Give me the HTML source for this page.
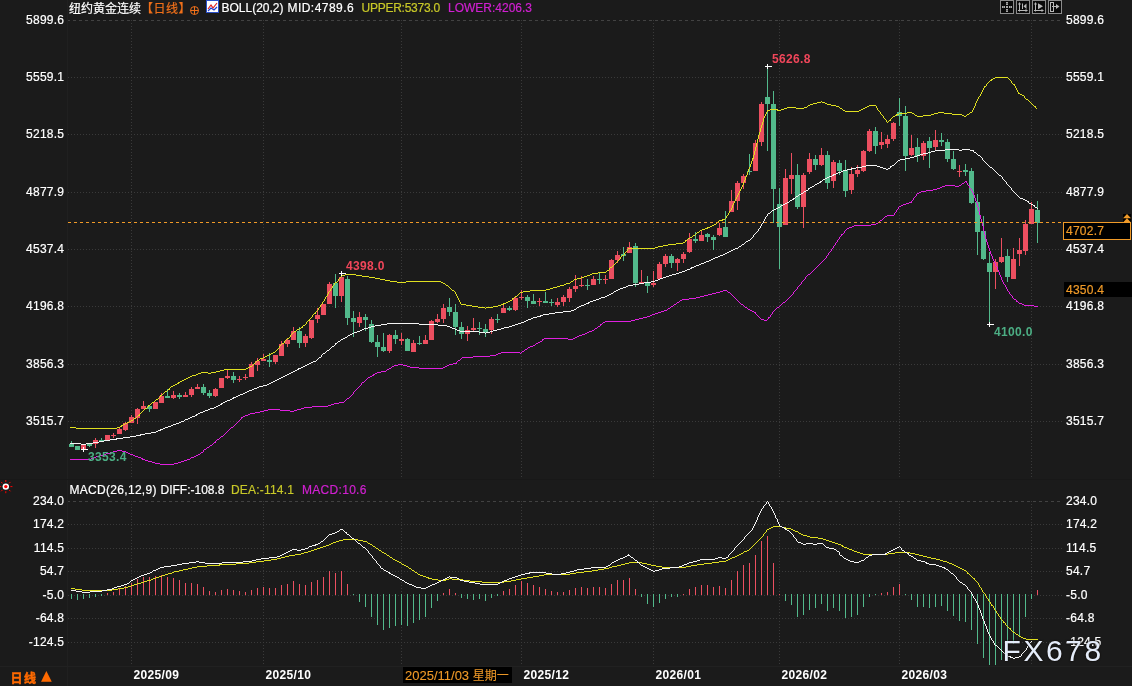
<!DOCTYPE html><html><head><meta charset="utf-8"><title>纽约黄金连续 日线</title>
<style>
html,body{margin:0;padding:0;background:#1b1b1b;}
body{width:1132px;height:686px;overflow:hidden;position:relative;font-family:"Liberation Sans","Noto Sans CJK SC",sans-serif;font-size:12px;color:#fff;}
#c{position:absolute;left:0;top:0;}
.t{position:absolute;white-space:nowrap;line-height:14px;height:14px;-webkit-text-stroke:0.2px;}
.ax{letter-spacing:0.25px;}
.r{text-align:right;}
.b{font-weight:bold;-webkit-text-stroke:0;letter-spacing:0.35px;}
.cjk{font-family:"Noto Sans CJK SC","Liberation Sans",sans-serif;}
</style></head><body>
<svg id="c" width="1132" height="686" viewBox="0 0 1132 686">
<rect x="0" y="0" width="1132" height="686" fill="#1b1b1b"/>
<g shape-rendering="crispEdges">
<rect x="67" y="0" width="1" height="686" fill="#202020"/>
<rect x="0" y="479" width="1132" height="1" fill="#181818"/>
<rect x="0" y="666" width="1132" height="1" fill="#212121"/>
<line x1="68" y1="20.5" x2="1062" y2="20.5" stroke="#424242" stroke-width="1" stroke-dasharray="3 3" stroke-dashoffset="-5"/>
<line x1="68" y1="77.5" x2="1062" y2="77.5" stroke="#3a3a3a" stroke-width="1" stroke-dasharray="1 2"/>
<line x1="68" y1="134.5" x2="1062" y2="134.5" stroke="#3a3a3a" stroke-width="1" stroke-dasharray="1 2"/>
<line x1="68" y1="192.5" x2="1062" y2="192.5" stroke="#3a3a3a" stroke-width="1" stroke-dasharray="1 2"/>
<line x1="68" y1="249.5" x2="1062" y2="249.5" stroke="#3a3a3a" stroke-width="1" stroke-dasharray="1 2"/>
<line x1="68" y1="306.5" x2="1062" y2="306.5" stroke="#3a3a3a" stroke-width="1" stroke-dasharray="1 2"/>
<line x1="68" y1="364.5" x2="1062" y2="364.5" stroke="#3a3a3a" stroke-width="1" stroke-dasharray="1 2"/>
<line x1="68" y1="421.5" x2="1062" y2="421.5" stroke="#3a3a3a" stroke-width="1" stroke-dasharray="1 2"/>
<line x1="68" y1="501.5" x2="1062" y2="501.5" stroke="#424242" stroke-width="1" stroke-dasharray="3 3" stroke-dashoffset="-5"/>
<line x1="68" y1="524.5" x2="1062" y2="524.5" stroke="#3a3a3a" stroke-width="1" stroke-dasharray="1 2"/>
<line x1="68" y1="548.5" x2="1062" y2="548.5" stroke="#3a3a3a" stroke-width="1" stroke-dasharray="1 2"/>
<line x1="68" y1="571.5" x2="1062" y2="571.5" stroke="#3a3a3a" stroke-width="1" stroke-dasharray="1 2"/>
<line x1="68" y1="595.5" x2="1062" y2="595.5" stroke="#3a3a3a" stroke-width="1" stroke-dasharray="1 2"/>
<line x1="68" y1="618.5" x2="1062" y2="618.5" stroke="#3a3a3a" stroke-width="1" stroke-dasharray="1 2"/>
<line x1="68" y1="642.5" x2="1062" y2="642.5" stroke="#3a3a3a" stroke-width="1" stroke-dasharray="1 2"/>
<line x1="131.5" y1="20" x2="131.5" y2="479" stroke="#3a3a3a" stroke-width="1" stroke-dasharray="1 2"/>
<line x1="131.5" y1="501" x2="131.5" y2="666" stroke="#3a3a3a" stroke-width="1" stroke-dasharray="1 2"/>
<line x1="263.5" y1="20" x2="263.5" y2="479" stroke="#3a3a3a" stroke-width="1" stroke-dasharray="1 2"/>
<line x1="263.5" y1="501" x2="263.5" y2="666" stroke="#3a3a3a" stroke-width="1" stroke-dasharray="1 2"/>
<line x1="401.5" y1="20" x2="401.5" y2="479" stroke="#3a3a3a" stroke-width="1" stroke-dasharray="1 2"/>
<line x1="401.5" y1="501" x2="401.5" y2="666" stroke="#3a3a3a" stroke-width="1" stroke-dasharray="1 2"/>
<line x1="521.5" y1="20" x2="521.5" y2="479" stroke="#3a3a3a" stroke-width="1" stroke-dasharray="1 2"/>
<line x1="521.5" y1="501" x2="521.5" y2="666" stroke="#3a3a3a" stroke-width="1" stroke-dasharray="1 2"/>
<line x1="653.5" y1="20" x2="653.5" y2="479" stroke="#3a3a3a" stroke-width="1" stroke-dasharray="1 2"/>
<line x1="653.5" y1="501" x2="653.5" y2="666" stroke="#3a3a3a" stroke-width="1" stroke-dasharray="1 2"/>
<line x1="779.5" y1="20" x2="779.5" y2="479" stroke="#3a3a3a" stroke-width="1" stroke-dasharray="1 2"/>
<line x1="779.5" y1="501" x2="779.5" y2="666" stroke="#3a3a3a" stroke-width="1" stroke-dasharray="1 2"/>
<line x1="899.5" y1="20" x2="899.5" y2="479" stroke="#3a3a3a" stroke-width="1" stroke-dasharray="1 2"/>
<line x1="899.5" y1="501" x2="899.5" y2="666" stroke="#3a3a3a" stroke-width="1" stroke-dasharray="1 2"/>
<line x1="1031.5" y1="20" x2="1031.5" y2="479" stroke="#3a3a3a" stroke-width="1" stroke-dasharray="1 2"/>
<line x1="1031.5" y1="501" x2="1031.5" y2="666" stroke="#3a3a3a" stroke-width="1" stroke-dasharray="1 2"/>
</g>
<g shape-rendering="crispEdges">
<rect x="71" y="441" width="1" height="6" fill="#52b98b"/>
<rect x="69" y="444" width="5" height="3" fill="#52b98b"/>
<rect x="77" y="446" width="1" height="4" fill="#52b98b"/>
<rect x="75" y="446" width="5" height="4" fill="#52b98b"/>
<rect x="83" y="445" width="1" height="6" fill="#ec4f60"/>
<rect x="81" y="445" width="5" height="4" fill="#ec4f60"/>
<rect x="89" y="444" width="1" height="3" fill="#52b98b"/>
<rect x="87" y="444" width="5" height="2" fill="#52b98b"/>
<rect x="95" y="438" width="1" height="10" fill="#ec4f60"/>
<rect x="93" y="440" width="5" height="4" fill="#ec4f60"/>
<rect x="101" y="438" width="1" height="3" fill="#52b98b"/>
<rect x="99" y="440" width="5" height="1" fill="#52b98b"/>
<rect x="107" y="435" width="1" height="6" fill="#ec4f60"/>
<rect x="105" y="435" width="5" height="6" fill="#ec4f60"/>
<rect x="113" y="433" width="1" height="5" fill="#ec4f60"/>
<rect x="111" y="435" width="5" height="1" fill="#ec4f60"/>
<rect x="119" y="428" width="1" height="6" fill="#ec4f60"/>
<rect x="117" y="429" width="5" height="5" fill="#ec4f60"/>
<rect x="125" y="422" width="1" height="9" fill="#ec4f60"/>
<rect x="123" y="423" width="5" height="7" fill="#ec4f60"/>
<rect x="131" y="415" width="1" height="8" fill="#ec4f60"/>
<rect x="129" y="417" width="5" height="6" fill="#ec4f60"/>
<rect x="137" y="408" width="1" height="16" fill="#ec4f60"/>
<rect x="135" y="409" width="5" height="9" fill="#ec4f60"/>
<rect x="143" y="401" width="1" height="8" fill="#ec4f60"/>
<rect x="141" y="406" width="5" height="3" fill="#ec4f60"/>
<rect x="149" y="405" width="1" height="7" fill="#52b98b"/>
<rect x="147" y="406" width="5" height="3" fill="#52b98b"/>
<rect x="155" y="402" width="1" height="7" fill="#ec4f60"/>
<rect x="153" y="402" width="5" height="7" fill="#ec4f60"/>
<rect x="161" y="393" width="1" height="10" fill="#ec4f60"/>
<rect x="159" y="396" width="5" height="7" fill="#ec4f60"/>
<rect x="167" y="389" width="1" height="9" fill="#52b98b"/>
<rect x="165" y="396" width="5" height="2" fill="#52b98b"/>
<rect x="173" y="391" width="1" height="8" fill="#ec4f60"/>
<rect x="171" y="395" width="5" height="3" fill="#ec4f60"/>
<rect x="179" y="393" width="1" height="6" fill="#52b98b"/>
<rect x="177" y="395" width="5" height="2" fill="#52b98b"/>
<rect x="185" y="392" width="1" height="5" fill="#ec4f60"/>
<rect x="183" y="395" width="5" height="2" fill="#ec4f60"/>
<rect x="191" y="387" width="1" height="10" fill="#ec4f60"/>
<rect x="189" y="389" width="5" height="6" fill="#ec4f60"/>
<rect x="197" y="384" width="1" height="5" fill="#ec4f60"/>
<rect x="195" y="387" width="5" height="2" fill="#ec4f60"/>
<rect x="203" y="384" width="1" height="11" fill="#52b98b"/>
<rect x="201" y="387" width="5" height="6" fill="#52b98b"/>
<rect x="209" y="390" width="1" height="8" fill="#52b98b"/>
<rect x="207" y="393" width="5" height="3" fill="#52b98b"/>
<rect x="215" y="388" width="1" height="9" fill="#ec4f60"/>
<rect x="213" y="389" width="5" height="7" fill="#ec4f60"/>
<rect x="221" y="378" width="1" height="10" fill="#ec4f60"/>
<rect x="219" y="378" width="5" height="10" fill="#ec4f60"/>
<rect x="227" y="370" width="1" height="9" fill="#ec4f60"/>
<rect x="225" y="376" width="5" height="2" fill="#ec4f60"/>
<rect x="233" y="372" width="1" height="11" fill="#52b98b"/>
<rect x="231" y="376" width="5" height="4" fill="#52b98b"/>
<rect x="239" y="376" width="1" height="6" fill="#ec4f60"/>
<rect x="237" y="379" width="5" height="1" fill="#ec4f60"/>
<rect x="245" y="374" width="1" height="6" fill="#ec4f60"/>
<rect x="243" y="377" width="5" height="1" fill="#ec4f60"/>
<rect x="251" y="362" width="1" height="15" fill="#ec4f60"/>
<rect x="249" y="364" width="5" height="13" fill="#ec4f60"/>
<rect x="257" y="358" width="1" height="13" fill="#ec4f60"/>
<rect x="255" y="361" width="5" height="4" fill="#ec4f60"/>
<rect x="263" y="354" width="1" height="7" fill="#ec4f60"/>
<rect x="261" y="359" width="5" height="2" fill="#ec4f60"/>
<rect x="269" y="353" width="1" height="14" fill="#52b98b"/>
<rect x="267" y="360" width="5" height="2" fill="#52b98b"/>
<rect x="275" y="355" width="1" height="9" fill="#ec4f60"/>
<rect x="273" y="355" width="5" height="7" fill="#ec4f60"/>
<rect x="281" y="341" width="1" height="15" fill="#ec4f60"/>
<rect x="279" y="344" width="5" height="12" fill="#ec4f60"/>
<rect x="287" y="338" width="1" height="9" fill="#ec4f60"/>
<rect x="285" y="340" width="5" height="4" fill="#ec4f60"/>
<rect x="293" y="327" width="1" height="13" fill="#ec4f60"/>
<rect x="291" y="331" width="5" height="9" fill="#ec4f60"/>
<rect x="299" y="327" width="1" height="21" fill="#52b98b"/>
<rect x="297" y="331" width="5" height="12" fill="#52b98b"/>
<rect x="305" y="334" width="1" height="13" fill="#ec4f60"/>
<rect x="303" y="336" width="5" height="7" fill="#ec4f60"/>
<rect x="311" y="320" width="1" height="19" fill="#ec4f60"/>
<rect x="309" y="320" width="5" height="18" fill="#ec4f60"/>
<rect x="317" y="308" width="1" height="15" fill="#ec4f60"/>
<rect x="315" y="315" width="5" height="4" fill="#ec4f60"/>
<rect x="323" y="304" width="1" height="11" fill="#ec4f60"/>
<rect x="321" y="304" width="5" height="11" fill="#ec4f60"/>
<rect x="329" y="282" width="1" height="22" fill="#ec4f60"/>
<rect x="327" y="284" width="5" height="20" fill="#ec4f60"/>
<rect x="335" y="274" width="1" height="34" fill="#52b98b"/>
<rect x="333" y="283" width="5" height="13" fill="#52b98b"/>
<rect x="341" y="273" width="1" height="29" fill="#ec4f60"/>
<rect x="339" y="277" width="5" height="19" fill="#ec4f60"/>
<rect x="347" y="276" width="1" height="49" fill="#52b98b"/>
<rect x="345" y="279" width="5" height="39" fill="#52b98b"/>
<rect x="353" y="311" width="1" height="26" fill="#52b98b"/>
<rect x="351" y="318" width="5" height="4" fill="#52b98b"/>
<rect x="359" y="312" width="1" height="15" fill="#ec4f60"/>
<rect x="357" y="317" width="5" height="6" fill="#ec4f60"/>
<rect x="365" y="314" width="1" height="17" fill="#52b98b"/>
<rect x="363" y="317" width="5" height="3" fill="#52b98b"/>
<rect x="371" y="320" width="1" height="23" fill="#52b98b"/>
<rect x="369" y="324" width="5" height="18" fill="#52b98b"/>
<rect x="377" y="335" width="1" height="22" fill="#52b98b"/>
<rect x="375" y="342" width="5" height="5" fill="#52b98b"/>
<rect x="383" y="333" width="1" height="19" fill="#52b98b"/>
<rect x="381" y="347" width="5" height="4" fill="#52b98b"/>
<rect x="389" y="334" width="1" height="19" fill="#ec4f60"/>
<rect x="387" y="335" width="5" height="16" fill="#ec4f60"/>
<rect x="395" y="330" width="1" height="14" fill="#52b98b"/>
<rect x="393" y="335" width="5" height="4" fill="#52b98b"/>
<rect x="401" y="333" width="1" height="12" fill="#ec4f60"/>
<rect x="399" y="339" width="5" height="2" fill="#ec4f60"/>
<rect x="407" y="338" width="1" height="13" fill="#52b98b"/>
<rect x="405" y="339" width="5" height="12" fill="#52b98b"/>
<rect x="413" y="340" width="1" height="12" fill="#ec4f60"/>
<rect x="411" y="343" width="5" height="9" fill="#ec4f60"/>
<rect x="419" y="336" width="1" height="9" fill="#52b98b"/>
<rect x="417" y="343" width="5" height="1" fill="#52b98b"/>
<rect x="425" y="335" width="1" height="9" fill="#ec4f60"/>
<rect x="423" y="340" width="5" height="4" fill="#ec4f60"/>
<rect x="431" y="320" width="1" height="20" fill="#ec4f60"/>
<rect x="429" y="321" width="5" height="19" fill="#ec4f60"/>
<rect x="437" y="314" width="1" height="9" fill="#ec4f60"/>
<rect x="435" y="319" width="5" height="3" fill="#ec4f60"/>
<rect x="443" y="304" width="1" height="19" fill="#ec4f60"/>
<rect x="441" y="308" width="5" height="11" fill="#ec4f60"/>
<rect x="449" y="298" width="1" height="18" fill="#52b98b"/>
<rect x="447" y="307" width="5" height="5" fill="#52b98b"/>
<rect x="455" y="304" width="1" height="31" fill="#52b98b"/>
<rect x="453" y="312" width="5" height="15" fill="#52b98b"/>
<rect x="461" y="322" width="1" height="17" fill="#52b98b"/>
<rect x="459" y="327" width="5" height="7" fill="#52b98b"/>
<rect x="467" y="326" width="1" height="15" fill="#ec4f60"/>
<rect x="465" y="330" width="5" height="4" fill="#ec4f60"/>
<rect x="473" y="318" width="1" height="13" fill="#ec4f60"/>
<rect x="471" y="328" width="5" height="2" fill="#ec4f60"/>
<rect x="479" y="322" width="1" height="13" fill="#52b98b"/>
<rect x="477" y="328" width="5" height="1" fill="#52b98b"/>
<rect x="485" y="324" width="1" height="13" fill="#52b98b"/>
<rect x="483" y="329" width="5" height="3" fill="#52b98b"/>
<rect x="491" y="317" width="1" height="17" fill="#ec4f60"/>
<rect x="489" y="319" width="5" height="11" fill="#ec4f60"/>
<rect x="497" y="314" width="1" height="9" fill="#52b98b"/>
<rect x="495" y="319" width="5" height="1" fill="#52b98b"/>
<rect x="503" y="305" width="1" height="8" fill="#ec4f60"/>
<rect x="501" y="308" width="5" height="5" fill="#ec4f60"/>
<rect x="509" y="306" width="1" height="5" fill="#52b98b"/>
<rect x="507" y="308" width="5" height="2" fill="#52b98b"/>
<rect x="515" y="297" width="1" height="14" fill="#ec4f60"/>
<rect x="513" y="298" width="5" height="12" fill="#ec4f60"/>
<rect x="521" y="290" width="1" height="10" fill="#ec4f60"/>
<rect x="519" y="297" width="5" height="1" fill="#ec4f60"/>
<rect x="527" y="295" width="1" height="13" fill="#52b98b"/>
<rect x="525" y="297" width="5" height="4" fill="#52b98b"/>
<rect x="533" y="294" width="1" height="10" fill="#52b98b"/>
<rect x="531" y="301" width="5" height="3" fill="#52b98b"/>
<rect x="539" y="298" width="1" height="8" fill="#ec4f60"/>
<rect x="537" y="301" width="5" height="1" fill="#ec4f60"/>
<rect x="545" y="292" width="1" height="11" fill="#52b98b"/>
<rect x="543" y="301" width="5" height="2" fill="#52b98b"/>
<rect x="551" y="299" width="1" height="7" fill="#52b98b"/>
<rect x="549" y="302" width="5" height="1" fill="#52b98b"/>
<rect x="557" y="298" width="1" height="9" fill="#ec4f60"/>
<rect x="555" y="302" width="5" height="3" fill="#ec4f60"/>
<rect x="563" y="295" width="1" height="11" fill="#ec4f60"/>
<rect x="561" y="297" width="5" height="5" fill="#ec4f60"/>
<rect x="569" y="287" width="1" height="15" fill="#ec4f60"/>
<rect x="567" y="289" width="5" height="9" fill="#ec4f60"/>
<rect x="575" y="275" width="1" height="17" fill="#ec4f60"/>
<rect x="573" y="286" width="5" height="3" fill="#ec4f60"/>
<rect x="581" y="276" width="1" height="11" fill="#ec4f60"/>
<rect x="579" y="285" width="5" height="1" fill="#ec4f60"/>
<rect x="587" y="279" width="1" height="11" fill="#52b98b"/>
<rect x="585" y="285" width="5" height="1" fill="#52b98b"/>
<rect x="593" y="276" width="1" height="9" fill="#ec4f60"/>
<rect x="591" y="279" width="5" height="6" fill="#ec4f60"/>
<rect x="599" y="272" width="1" height="12" fill="#52b98b"/>
<rect x="597" y="279" width="5" height="1" fill="#52b98b"/>
<rect x="605" y="275" width="1" height="9" fill="#ec4f60"/>
<rect x="603" y="279" width="5" height="1" fill="#ec4f60"/>
<rect x="611" y="259" width="1" height="20" fill="#ec4f60"/>
<rect x="609" y="260" width="5" height="19" fill="#ec4f60"/>
<rect x="617" y="251" width="1" height="12" fill="#ec4f60"/>
<rect x="615" y="255" width="5" height="5" fill="#ec4f60"/>
<rect x="623" y="247" width="1" height="14" fill="#52b98b"/>
<rect x="621" y="254" width="5" height="2" fill="#52b98b"/>
<rect x="629" y="242" width="1" height="11" fill="#ec4f60"/>
<rect x="627" y="247" width="5" height="6" fill="#ec4f60"/>
<rect x="635" y="243" width="1" height="44" fill="#52b98b"/>
<rect x="633" y="246" width="5" height="37" fill="#52b98b"/>
<rect x="641" y="270" width="1" height="13" fill="#ec4f60"/>
<rect x="639" y="282" width="5" height="1" fill="#ec4f60"/>
<rect x="647" y="276" width="1" height="17" fill="#52b98b"/>
<rect x="645" y="282" width="5" height="4" fill="#52b98b"/>
<rect x="653" y="271" width="1" height="16" fill="#ec4f60"/>
<rect x="651" y="283" width="5" height="2" fill="#ec4f60"/>
<rect x="659" y="262" width="1" height="18" fill="#ec4f60"/>
<rect x="657" y="264" width="5" height="15" fill="#ec4f60"/>
<rect x="665" y="254" width="1" height="13" fill="#ec4f60"/>
<rect x="663" y="256" width="5" height="8" fill="#ec4f60"/>
<rect x="671" y="254" width="1" height="14" fill="#52b98b"/>
<rect x="669" y="256" width="5" height="7" fill="#52b98b"/>
<rect x="677" y="258" width="1" height="13" fill="#ec4f60"/>
<rect x="675" y="259" width="5" height="4" fill="#ec4f60"/>
<rect x="683" y="252" width="1" height="11" fill="#ec4f60"/>
<rect x="681" y="254" width="5" height="5" fill="#ec4f60"/>
<rect x="689" y="233" width="1" height="20" fill="#ec4f60"/>
<rect x="687" y="239" width="5" height="13" fill="#ec4f60"/>
<rect x="695" y="232" width="1" height="11" fill="#52b98b"/>
<rect x="693" y="239" width="5" height="2" fill="#52b98b"/>
<rect x="701" y="230" width="1" height="11" fill="#ec4f60"/>
<rect x="699" y="235" width="5" height="6" fill="#ec4f60"/>
<rect x="707" y="233" width="1" height="9" fill="#52b98b"/>
<rect x="705" y="234" width="5" height="3" fill="#52b98b"/>
<rect x="713" y="235" width="1" height="15" fill="#52b98b"/>
<rect x="711" y="237" width="5" height="3" fill="#52b98b"/>
<rect x="719" y="223" width="1" height="13" fill="#ec4f60"/>
<rect x="717" y="228" width="5" height="7" fill="#ec4f60"/>
<rect x="725" y="211" width="1" height="26" fill="#52b98b"/>
<rect x="723" y="227" width="5" height="10" fill="#52b98b"/>
<rect x="731" y="190" width="1" height="22" fill="#ec4f60"/>
<rect x="729" y="201" width="5" height="11" fill="#ec4f60"/>
<rect x="737" y="181" width="1" height="29" fill="#ec4f60"/>
<rect x="735" y="183" width="5" height="18" fill="#ec4f60"/>
<rect x="743" y="174" width="1" height="15" fill="#ec4f60"/>
<rect x="741" y="176" width="5" height="7" fill="#ec4f60"/>
<rect x="749" y="154" width="1" height="21" fill="#52b98b"/>
<rect x="747" y="171" width="5" height="1" fill="#52b98b"/>
<rect x="755" y="140" width="1" height="31" fill="#ec4f60"/>
<rect x="753" y="143" width="5" height="28" fill="#ec4f60"/>
<rect x="761" y="102" width="1" height="44" fill="#ec4f60"/>
<rect x="759" y="104" width="5" height="38" fill="#ec4f60"/>
<rect x="767" y="66" width="1" height="85" fill="#52b98b"/>
<rect x="765" y="97" width="5" height="7" fill="#52b98b"/>
<rect x="773" y="91" width="1" height="132" fill="#52b98b"/>
<rect x="771" y="104" width="5" height="85" fill="#52b98b"/>
<rect x="779" y="188" width="1" height="81" fill="#52b98b"/>
<rect x="777" y="204" width="5" height="23" fill="#52b98b"/>
<rect x="785" y="169" width="1" height="56" fill="#ec4f60"/>
<rect x="783" y="178" width="5" height="47" fill="#ec4f60"/>
<rect x="791" y="153" width="1" height="41" fill="#ec4f60"/>
<rect x="789" y="175" width="5" height="4" fill="#ec4f60"/>
<rect x="797" y="164" width="1" height="45" fill="#52b98b"/>
<rect x="795" y="175" width="5" height="32" fill="#52b98b"/>
<rect x="803" y="173" width="1" height="55" fill="#ec4f60"/>
<rect x="801" y="175" width="5" height="32" fill="#ec4f60"/>
<rect x="809" y="153" width="1" height="21" fill="#ec4f60"/>
<rect x="807" y="159" width="5" height="13" fill="#ec4f60"/>
<rect x="815" y="155" width="1" height="15" fill="#52b98b"/>
<rect x="813" y="159" width="5" height="6" fill="#52b98b"/>
<rect x="821" y="148" width="1" height="18" fill="#ec4f60"/>
<rect x="819" y="155" width="5" height="10" fill="#ec4f60"/>
<rect x="827" y="151" width="1" height="38" fill="#52b98b"/>
<rect x="825" y="155" width="5" height="28" fill="#52b98b"/>
<rect x="833" y="160" width="1" height="28" fill="#ec4f60"/>
<rect x="831" y="162" width="5" height="19" fill="#ec4f60"/>
<rect x="839" y="160" width="1" height="15" fill="#52b98b"/>
<rect x="837" y="163" width="5" height="8" fill="#52b98b"/>
<rect x="845" y="160" width="1" height="37" fill="#52b98b"/>
<rect x="843" y="170" width="5" height="21" fill="#52b98b"/>
<rect x="851" y="167" width="1" height="27" fill="#ec4f60"/>
<rect x="849" y="174" width="5" height="16" fill="#ec4f60"/>
<rect x="857" y="165" width="1" height="12" fill="#ec4f60"/>
<rect x="855" y="170" width="5" height="4" fill="#ec4f60"/>
<rect x="863" y="150" width="1" height="22" fill="#ec4f60"/>
<rect x="861" y="151" width="5" height="20" fill="#ec4f60"/>
<rect x="869" y="129" width="1" height="23" fill="#ec4f60"/>
<rect x="867" y="131" width="5" height="20" fill="#ec4f60"/>
<rect x="875" y="127" width="1" height="27" fill="#52b98b"/>
<rect x="873" y="131" width="5" height="15" fill="#52b98b"/>
<rect x="881" y="132" width="1" height="17" fill="#ec4f60"/>
<rect x="879" y="142" width="5" height="3" fill="#ec4f60"/>
<rect x="887" y="135" width="1" height="13" fill="#ec4f60"/>
<rect x="885" y="139" width="5" height="5" fill="#ec4f60"/>
<rect x="893" y="122" width="1" height="19" fill="#ec4f60"/>
<rect x="891" y="123" width="5" height="16" fill="#ec4f60"/>
<rect x="899" y="98" width="1" height="28" fill="#52b98b"/>
<rect x="897" y="112" width="5" height="4" fill="#52b98b"/>
<rect x="905" y="106" width="1" height="65" fill="#52b98b"/>
<rect x="903" y="116" width="5" height="40" fill="#52b98b"/>
<rect x="911" y="135" width="1" height="21" fill="#ec4f60"/>
<rect x="909" y="148" width="5" height="7" fill="#ec4f60"/>
<rect x="917" y="138" width="1" height="24" fill="#52b98b"/>
<rect x="915" y="147" width="5" height="9" fill="#52b98b"/>
<rect x="923" y="141" width="1" height="19" fill="#ec4f60"/>
<rect x="921" y="143" width="5" height="13" fill="#ec4f60"/>
<rect x="929" y="137" width="1" height="31" fill="#52b98b"/>
<rect x="927" y="141" width="5" height="7" fill="#52b98b"/>
<rect x="935" y="130" width="1" height="21" fill="#ec4f60"/>
<rect x="933" y="140" width="5" height="7" fill="#ec4f60"/>
<rect x="941" y="133" width="1" height="13" fill="#52b98b"/>
<rect x="939" y="140" width="5" height="2" fill="#52b98b"/>
<rect x="947" y="139" width="1" height="23" fill="#52b98b"/>
<rect x="945" y="142" width="5" height="17" fill="#52b98b"/>
<rect x="953" y="151" width="1" height="19" fill="#52b98b"/>
<rect x="951" y="159" width="5" height="10" fill="#52b98b"/>
<rect x="959" y="165" width="1" height="12" fill="#ec4f60"/>
<rect x="957" y="171" width="5" height="1" fill="#ec4f60"/>
<rect x="965" y="164" width="1" height="12" fill="#52b98b"/>
<rect x="963" y="170" width="5" height="2" fill="#52b98b"/>
<rect x="971" y="168" width="1" height="36" fill="#52b98b"/>
<rect x="969" y="171" width="5" height="32" fill="#52b98b"/>
<rect x="977" y="194" width="1" height="61" fill="#52b98b"/>
<rect x="975" y="202" width="5" height="30" fill="#52b98b"/>
<rect x="983" y="216" width="1" height="44" fill="#52b98b"/>
<rect x="981" y="231" width="5" height="28" fill="#52b98b"/>
<rect x="989" y="252" width="1" height="72" fill="#52b98b"/>
<rect x="987" y="263" width="5" height="9" fill="#52b98b"/>
<rect x="995" y="259" width="1" height="30" fill="#ec4f60"/>
<rect x="993" y="262" width="5" height="10" fill="#ec4f60"/>
<rect x="1001" y="238" width="1" height="25" fill="#ec4f60"/>
<rect x="999" y="257" width="5" height="5" fill="#ec4f60"/>
<rect x="1007" y="249" width="1" height="33" fill="#52b98b"/>
<rect x="1005" y="256" width="5" height="21" fill="#52b98b"/>
<rect x="1013" y="248" width="1" height="31" fill="#ec4f60"/>
<rect x="1011" y="259" width="5" height="20" fill="#ec4f60"/>
<rect x="1019" y="238" width="1" height="28" fill="#ec4f60"/>
<rect x="1017" y="250" width="5" height="4" fill="#ec4f60"/>
<rect x="1025" y="220" width="1" height="35" fill="#ec4f60"/>
<rect x="1023" y="224" width="5" height="27" fill="#ec4f60"/>
<rect x="1031" y="202" width="1" height="22" fill="#ec4f60"/>
<rect x="1029" y="209" width="5" height="15" fill="#ec4f60"/>
<rect x="1037" y="201" width="1" height="42" fill="#52b98b"/>
<rect x="1035" y="210" width="5" height="13" fill="#52b98b"/>
</g>
<path fill="none" stroke="#e020e0" stroke-width="1" shape-rendering="crispEdges" d="M965 181.5h2M964 182.5h1M966 182.5h1M962 183.5h2M967 183.5h1M961 184.5h1M967 184.5h1M945 185.5h10M959 185.5h2M968 185.5h1M942 186.5h3M955 186.5h4M969 186.5h1M940 187.5h2M969 187.5h1M937 188.5h3M970 188.5h1M933 189.5h4M971 189.5h1M926 190.5h7M971 190.5h1M921 191.5h5M972 191.5h1M919 192.5h2M972 192.5h1M917 193.5h2M973 193.5h1M916 194.5h1M973 194.5h1M916 195.5h1M974 195.5h1M915 196.5h1M974 196.5h1M914 197.5h1M974 197.5h1M913 198.5h1M975 198.5h1M913 199.5h1M975 199.5h1M912 200.5h1M975 200.5h1M911 201.5h1M976 201.5h1M909 202.5h3M976 202.5h1M906 203.5h3M977 203.5h1M903 204.5h3M977 204.5h1M901 205.5h2M977 205.5h1M899 206.5h2M977 206.5h1M898 207.5h1M978 207.5h1M898 208.5h1M978 208.5h1M897 209.5h1M978 209.5h1M896 210.5h1M978 210.5h1M896 211.5h1M979 211.5h1M895 212.5h1M979 212.5h1M894 213.5h1M979 213.5h1M894 214.5h1M979 214.5h1M887 215.5h7M980 215.5h1M885 216.5h2M980 216.5h1M884 217.5h1M980 217.5h1M883 218.5h1M980 218.5h1M882 219.5h1M981 219.5h1M880 220.5h2M981 220.5h1M879 221.5h1M981 221.5h1M878 222.5h1M981 222.5h1M876 223.5h2M982 223.5h1M871 224.5h5M982 224.5h1M854 225.5h17M982 225.5h1M852 226.5h2M983 226.5h1M849 227.5h3M983 227.5h1M847 228.5h2M983 228.5h1M846 229.5h1M983 229.5h1M845 230.5h1M983 230.5h1M844 231.5h1M984 231.5h1M844 232.5h1M984 232.5h1M843 233.5h1M984 233.5h1M841 234.5h2M984 234.5h1M841 235.5h1M985 235.5h1M840 236.5h1M985 236.5h1M839 237.5h1M985 237.5h1M839 238.5h1M985 238.5h1M838 239.5h1M986 239.5h1M837 240.5h1M986 240.5h1M837 241.5h1M986 241.5h1M836 242.5h1M987 242.5h1M835 243.5h1M987 243.5h1M835 244.5h1M987 244.5h1M834 245.5h1M988 245.5h1M833 246.5h1M988 246.5h1M833 247.5h1M988 247.5h1M832 248.5h1M989 248.5h1M831 249.5h1M989 249.5h1M831 250.5h1M989 250.5h1M830 251.5h1M990 251.5h1M829 252.5h1M990 252.5h1M828 253.5h1M990 253.5h1M828 254.5h1M991 254.5h1M827 255.5h1M991 255.5h1M826 256.5h1M992 256.5h1M826 257.5h1M992 257.5h1M825 258.5h1M992 258.5h1M824 259.5h1M993 259.5h1M823 260.5h1M993 260.5h1M822 261.5h1M994 261.5h1M821 262.5h1M994 262.5h1M820 263.5h1M995 263.5h1M819 264.5h1M995 264.5h1M818 265.5h1M995 265.5h1M817 266.5h1M996 266.5h1M816 267.5h1M997 267.5h1M815 268.5h1M997 268.5h1M814 269.5h1M997 269.5h1M813 270.5h1M998 270.5h1M812 271.5h1M998 271.5h1M811 272.5h1M999 272.5h1M810 273.5h1M999 273.5h1M808 274.5h2M999 274.5h1M807 275.5h1M1000 275.5h1M806 276.5h1M1000 276.5h1M805 277.5h1M1001 277.5h1M805 278.5h1M1001 278.5h1M804 279.5h1M1001 279.5h1M803 280.5h1M1002 280.5h1M802 281.5h1M1002 281.5h1M801 282.5h1M1003 282.5h1M801 283.5h1M1003 283.5h1M800 284.5h1M1004 284.5h1M799 285.5h1M1005 285.5h1M798 286.5h1M1005 286.5h1M797 287.5h1M1006 287.5h1M797 288.5h1M1006 288.5h1M796 289.5h1M1007 289.5h1M723 290.5h4M795 290.5h1M1007 290.5h1M720 291.5h3M727 291.5h1M794 291.5h1M1008 291.5h1M716 292.5h4M728 292.5h2M793 292.5h1M1009 292.5h1M712 293.5h4M730 293.5h1M793 293.5h1M1009 293.5h1M708 294.5h4M731 294.5h1M792 294.5h1M1010 294.5h1M704 295.5h4M732 295.5h1M791 295.5h1M1011 295.5h1M700 296.5h4M733 296.5h1M790 296.5h1M1012 296.5h1M696 297.5h4M734 297.5h1M789 297.5h1M1012 297.5h1M689 298.5h7M735 298.5h1M788 298.5h1M1013 298.5h1M682 299.5h7M736 299.5h1M787 299.5h1M1014 299.5h2M680 300.5h2M737 300.5h1M786 300.5h1M1016 300.5h1M679 301.5h1M738 301.5h1M785 301.5h1M1016 301.5h2M677 302.5h2M739 302.5h1M783 302.5h2M1018 302.5h1M676 303.5h1M740 303.5h1M782 303.5h1M1019 303.5h3M674 304.5h2M741 304.5h2M781 304.5h1M1022 304.5h2M673 305.5h1M743 305.5h1M780 305.5h1M1024 305.5h10M671 306.5h2M744 306.5h1M779 306.5h1M1034 306.5h4M670 307.5h1M745 307.5h2M777 307.5h2M668 308.5h2M747 308.5h1M776 308.5h1M667 309.5h1M748 309.5h2M775 309.5h1M664 310.5h3M750 310.5h2M774 310.5h1M661 311.5h3M752 311.5h2M773 311.5h1M658 312.5h3M754 312.5h2M772 312.5h1M655 313.5h3M755 313.5h1M772 313.5h1M652 314.5h3M756 314.5h1M771 314.5h1M650 315.5h2M757 315.5h1M770 315.5h1M647 316.5h3M758 316.5h1M770 316.5h1M643 317.5h4M759 317.5h1M768 317.5h2M639 318.5h4M760 318.5h1M768 318.5h1M635 319.5h4M761 319.5h3M767 319.5h1M631 320.5h4M764 320.5h3M605 321.5h26M603 322.5h2M602 323.5h1M600 324.5h2M600 325.5h1M598 326.5h2M597 327.5h1M595 328.5h2M594 329.5h1M592 330.5h2M589 331.5h3M587 332.5h2M585 333.5h2M582 334.5h3M579 335.5h3M577 336.5h2M575 337.5h2M544 338.5h24M573 338.5h2M542 339.5h2M568 339.5h5M542 340.5h1M540 341.5h2M538 342.5h2M536 343.5h2M535 344.5h1M533 345.5h2M530 346.5h3M528 347.5h2M527 348.5h1M525 349.5h2M524 350.5h1M522 351.5h2M501 352.5h19M521 352.5h1M498 353.5h3M520 353.5h1M496 354.5h2M490 355.5h6M473 356.5h17M462 357.5h11M461 358.5h1M460 359.5h1M458 360.5h2M457 361.5h1M456 362.5h1M453 363.5h4M398 364.5h5M449 364.5h4M394 365.5h4M403 365.5h4M447 365.5h2M392 366.5h2M407 366.5h3M445 366.5h2M391 367.5h1M410 367.5h9M443 367.5h2M389 368.5h2M419 368.5h24M387 369.5h2M386 370.5h1M381 371.5h5M377 372.5h4M375 373.5h2M373 374.5h2M372 375.5h2M370 376.5h2M368 377.5h2M367 378.5h1M366 379.5h1M365 380.5h1M364 381.5h1M362 382.5h2M361 383.5h1M361 384.5h1M360 385.5h1M359 386.5h1M358 387.5h1M357 388.5h1M356 389.5h1M355 390.5h1M354 391.5h1M353 392.5h1M353 393.5h1M352 394.5h1M351 395.5h1M350 396.5h1M349 397.5h1M347 398.5h2M346 399.5h1M345 400.5h1M344 401.5h1M339 402.5h5M334 403.5h5M331 404.5h3M328 405.5h3M312 406.5h16M304 407.5h8M301 408.5h3M268 409.5h12M297 409.5h4M264 410.5h4M280 410.5h10M294 410.5h3M260 411.5h4M290 411.5h4M255 412.5h5M250 413.5h5M248 414.5h2M245 415.5h3M243 416.5h2M241 417.5h2M241 418.5h1M240 419.5h1M239 420.5h1M238 421.5h1M237 422.5h1M236 423.5h1M235 424.5h1M234 425.5h1M233 426.5h1M231 427.5h2M230 428.5h1M229 429.5h1M228 430.5h1M227 431.5h1M226 432.5h1M225 433.5h1M224 434.5h1M223 435.5h1M221 436.5h2M220 437.5h1M219 438.5h1M217 439.5h2M216 440.5h1M215 441.5h1M214 442.5h2M213 443.5h1M212 444.5h1M210 445.5h2M209 446.5h1M207 447.5h2M206 448.5h1M204 449.5h2M117 450.5h5M203 450.5h1M113 451.5h4M122 451.5h4M203 451.5h1M110 452.5h3M126 452.5h2M201 452.5h2M106 453.5h4M128 453.5h2M200 453.5h1M103 454.5h3M130 454.5h3M198 454.5h2M100 455.5h3M133 455.5h2M196 455.5h2M96 456.5h4M135 456.5h3M194 456.5h2M94 457.5h2M138 457.5h3M191 457.5h3M91 458.5h3M141 458.5h2M190 458.5h1M70 459.5h21M142 459.5h3M187 459.5h3M145 460.5h3M184 460.5h3M148 461.5h4M181 461.5h3M152 462.5h3M178 462.5h3M155 463.5h5M174 463.5h4M160 464.5h14"/>
<path fill="none" stroke="#e0e020" stroke-width="1" shape-rendering="crispEdges" d="M995 77.5h13M993 78.5h2M1008 78.5h1M991 79.5h2M1009 79.5h1M990 80.5h2M1010 80.5h1M989 81.5h1M1011 81.5h1M988 82.5h1M1011 82.5h1M987 83.5h1M1012 83.5h1M986 84.5h1M1013 84.5h2M986 85.5h1M1014 85.5h1M984 86.5h2M1015 86.5h1M984 87.5h1M1015 87.5h1M983 88.5h1M1016 88.5h1M983 89.5h1M1016 89.5h1M982 90.5h1M1017 90.5h1M982 91.5h1M1017 91.5h1M981 92.5h1M1018 92.5h1M981 93.5h1M1018 93.5h2M980 94.5h1M1020 94.5h2M980 95.5h1M1022 95.5h2M979 96.5h1M1024 96.5h1M978 97.5h1M1024 97.5h1M978 98.5h1M1025 98.5h1M977 99.5h1M1026 99.5h2M977 100.5h1M1028 100.5h1M821 101.5h1M976 101.5h1M1029 101.5h1M817 102.5h4M822 102.5h3M976 102.5h1M1030 102.5h1M813 103.5h4M825 103.5h2M975 103.5h1M1031 103.5h1M810 104.5h3M827 104.5h4M975 104.5h1M1032 104.5h1M808 105.5h2M831 105.5h5M869 105.5h7M975 105.5h1M1033 105.5h1M807 106.5h1M836 106.5h3M867 106.5h2M876 106.5h1M974 106.5h1M1034 106.5h2M787 107.5h9M804 107.5h3M839 107.5h1M865 107.5h2M876 107.5h1M974 107.5h1M1035 107.5h1M784 108.5h3M796 108.5h8M840 108.5h2M863 108.5h2M877 108.5h1M973 108.5h1M1036 108.5h1M770 109.5h8M781 109.5h3M842 109.5h1M861 109.5h2M877 109.5h1M973 109.5h1M767 110.5h3M777 110.5h4M843 110.5h2M859 110.5h2M878 110.5h1M972 110.5h1M767 111.5h1M845 111.5h14M879 111.5h1M972 111.5h1M766 112.5h1M880 112.5h1M907 112.5h5M938 112.5h6M970 112.5h2M766 113.5h1M880 113.5h1M899 113.5h8M912 113.5h2M934 113.5h4M944 113.5h8M969 113.5h1M765 114.5h1M881 114.5h1M896 114.5h3M914 114.5h1M931 114.5h3M952 114.5h10M967 114.5h2M765 115.5h1M882 115.5h1M895 115.5h2M915 115.5h2M923 115.5h8M962 115.5h2M966 115.5h1M764 116.5h1M883 116.5h1M893 116.5h2M917 116.5h6M964 116.5h2M764 117.5h1M883 117.5h1M892 117.5h1M763 118.5h1M884 118.5h1M891 118.5h1M763 119.5h1M885 119.5h1M890 119.5h1M763 120.5h1M886 120.5h1M889 120.5h2M763 121.5h1M886 121.5h1M888 121.5h1M762 122.5h1M887 122.5h1M762 123.5h1M762 124.5h1M761 125.5h1M761 126.5h1M761 127.5h1M760 128.5h1M760 129.5h1M760 130.5h1M760 131.5h1M759 132.5h1M759 133.5h1M759 134.5h1M758 135.5h1M758 136.5h1M758 137.5h1M758 138.5h1M757 139.5h1M757 140.5h1M757 141.5h1M757 142.5h1M756 143.5h1M756 144.5h1M756 145.5h1M756 146.5h1M755 147.5h1M755 148.5h1M755 149.5h1M755 150.5h1M754 151.5h1M754 152.5h1M754 153.5h1M754 154.5h1M753 155.5h1M753 156.5h1M753 157.5h1M752 158.5h2M752 159.5h1M752 160.5h1M751 161.5h1M751 162.5h1M751 163.5h1M750 164.5h1M750 165.5h1M750 166.5h1M749 167.5h1M749 168.5h1M748 169.5h1M748 170.5h1M748 171.5h1M747 172.5h1M747 173.5h1M747 174.5h1M746 175.5h1M746 176.5h1M745 177.5h1M745 178.5h1M745 179.5h1M744 180.5h1M744 181.5h1M743 182.5h1M743 183.5h1M743 184.5h1M742 185.5h1M742 186.5h1M741 187.5h1M741 188.5h1M740 189.5h1M740 190.5h1M739 191.5h1M739 192.5h1M738 193.5h1M738 194.5h1M737 195.5h1M737 196.5h1M736 197.5h1M736 198.5h1M735 199.5h1M735 200.5h1M734 201.5h1M734 202.5h1M733 203.5h1M733 204.5h1M732 205.5h1M732 206.5h1M732 207.5h1M731 208.5h1M731 209.5h1M730 210.5h1M729 211.5h1M729 212.5h1M728 213.5h1M728 214.5h1M727 215.5h1M726 216.5h1M726 217.5h1M725 218.5h1M722 219.5h3M719 220.5h4M718 221.5h1M716 222.5h2M716 223.5h1M714 224.5h2M712 225.5h2M710 226.5h2M707 227.5h3M705 228.5h3M702 229.5h3M700 230.5h2M699 231.5h1M697 232.5h2M696 233.5h1M695 234.5h1M693 235.5h2M692 236.5h1M690 237.5h2M688 238.5h2M687 239.5h1M685 240.5h2M685 241.5h1M683 242.5h2M676 243.5h7M668 244.5h8M663 245.5h5M658 246.5h5M655 247.5h3M628 248.5h27M627 249.5h1M627 250.5h1M626 251.5h1M625 252.5h1M624 253.5h1M624 254.5h1M622 255.5h2M621 256.5h1M620 257.5h1M620 258.5h1M619 259.5h1M618 260.5h1M617 261.5h1M616 262.5h1M615 263.5h1M614 264.5h1M613 265.5h1M612 266.5h1M610 267.5h2M609 268.5h1M609 269.5h1M607 270.5h2M606 271.5h1M598 272.5h8M592 273.5h6M345 274.5h11M590 274.5h2M342 275.5h3M356 275.5h6M587 275.5h3M341 276.5h1M362 276.5h7M584 276.5h3M340 277.5h1M369 277.5h6M581 277.5h3M339 278.5h1M375 278.5h5M577 278.5h4M338 279.5h1M380 279.5h5M574 279.5h3M338 280.5h1M385 280.5h5M573 280.5h1M337 281.5h1M390 281.5h7M406 281.5h35M571 281.5h2M335 282.5h2M397 282.5h9M441 282.5h2M570 282.5h1M334 283.5h1M443 283.5h2M566 283.5h4M334 284.5h1M445 284.5h1M564 284.5h2M333 285.5h1M446 285.5h2M560 285.5h4M332 286.5h1M448 286.5h1M557 286.5h3M332 287.5h1M449 287.5h1M553 287.5h4M331 288.5h1M450 288.5h1M550 288.5h3M330 289.5h1M451 289.5h1M546 289.5h4M330 290.5h1M452 290.5h2M530 290.5h16M329 291.5h1M454 291.5h1M523 291.5h7M328 292.5h1M455 292.5h1M520 292.5h3M328 293.5h1M455 293.5h1M519 293.5h1M327 294.5h1M456 294.5h1M518 294.5h1M327 295.5h1M456 295.5h1M517 295.5h1M326 296.5h1M457 296.5h1M515 296.5h2M325 297.5h1M457 297.5h1M514 297.5h1M325 298.5h1M458 298.5h1M512 298.5h2M324 299.5h1M458 299.5h1M512 299.5h1M324 300.5h1M459 300.5h1M510 300.5h2M323 301.5h1M459 301.5h1M508 301.5h2M322 302.5h1M460 302.5h1M506 302.5h2M322 303.5h1M460 303.5h1M503 303.5h3M321 304.5h1M461 304.5h5M501 304.5h3M320 305.5h1M466 305.5h6M498 305.5h3M320 306.5h1M472 306.5h6M493 306.5h5M319 307.5h1M478 307.5h7M486 307.5h7M318 308.5h1M485 308.5h1M318 309.5h1M317 310.5h1M316 311.5h1M315 312.5h1M314 313.5h2M313 314.5h1M312 315.5h1M312 316.5h1M311 317.5h1M310 318.5h1M309 319.5h1M308 320.5h2M307 321.5h1M306 322.5h1M306 323.5h1M305 324.5h1M303 325.5h2M302 326.5h1M301 327.5h2M299 328.5h2M297 329.5h2M296 330.5h1M294 331.5h2M293 332.5h1M292 333.5h1M291 334.5h1M290 335.5h1M290 336.5h1M289 337.5h1M287 338.5h2M286 339.5h1M285 340.5h1M284 341.5h1M284 342.5h1M282 343.5h2M281 344.5h1M280 345.5h1M279 346.5h1M279 347.5h1M278 348.5h1M277 349.5h1M276 350.5h1M275 351.5h1M273 352.5h2M271 353.5h2M269 354.5h2M267 355.5h2M265 356.5h2M263 357.5h2M260 358.5h3M259 359.5h1M257 360.5h2M256 361.5h1M255 362.5h1M254 363.5h1M253 364.5h1M252 365.5h1M250 366.5h2M248 367.5h2M246 368.5h2M224 369.5h22M220 370.5h4M216 371.5h4M201 372.5h7M211 372.5h5M198 373.5h3M208 373.5h3M196 374.5h2M192 375.5h4M190 376.5h2M188 377.5h2M186 378.5h2M184 379.5h2M182 380.5h2M180 381.5h2M178 382.5h2M177 383.5h2M175 384.5h2M173 385.5h2M171 386.5h2M170 387.5h1M169 388.5h1M168 389.5h2M167 390.5h1M165 391.5h2M164 392.5h1M163 393.5h1M162 394.5h1M160 395.5h2M160 396.5h1M159 397.5h1M158 398.5h1M156 399.5h2M155 400.5h1M154 401.5h1M152 402.5h2M151 403.5h1M150 404.5h1M148 405.5h2M148 406.5h1M147 407.5h1M145 408.5h2M144 409.5h1M143 410.5h1M142 411.5h1M141 412.5h1M140 413.5h1M139 414.5h1M138 415.5h2M137 416.5h1M136 417.5h1M134 418.5h2M133 419.5h1M131 420.5h2M129 421.5h2M127 422.5h2M125 423.5h2M123 424.5h2M121 425.5h2M120 426.5h2M70 427.5h6M117 427.5h3M76 428.5h41"/>
<path fill="none" stroke="#f4f4f4" stroke-width="1" shape-rendering="crispEdges" d="M945 149.5h14M962 149.5h8M935 150.5h10M959 150.5h3M970 150.5h4M931 151.5h4M973 151.5h1M928 152.5h3M974 152.5h2M923 153.5h5M976 153.5h1M920 154.5h3M977 154.5h1M917 155.5h3M978 155.5h2M914 156.5h3M980 156.5h1M910 157.5h4M981 157.5h1M905 158.5h5M982 158.5h1M900 159.5h5M982 159.5h1M898 160.5h2M983 160.5h1M897 161.5h1M984 161.5h1M896 162.5h1M985 162.5h1M895 163.5h1M986 163.5h1M894 164.5h1M987 164.5h1M866 165.5h11M892 165.5h2M988 165.5h1M862 166.5h4M877 166.5h3M890 166.5h2M989 166.5h1M856 167.5h6M880 167.5h3M890 167.5h1M990 167.5h2M851 168.5h5M883 168.5h3M888 168.5h2M992 168.5h1M847 169.5h5M886 169.5h2M993 169.5h1M843 170.5h4M994 170.5h1M841 171.5h2M995 171.5h1M838 172.5h3M996 172.5h1M836 173.5h2M997 173.5h1M833 174.5h3M998 174.5h1M832 175.5h2M999 175.5h2M829 176.5h3M1001 176.5h1M827 177.5h2M1002 177.5h1M825 178.5h2M1002 178.5h1M823 179.5h2M1003 179.5h1M822 180.5h1M1004 180.5h1M820 181.5h2M1005 181.5h1M819 182.5h2M1006 182.5h1M817 183.5h2M1006 183.5h1M815 184.5h2M1007 184.5h1M814 185.5h1M1008 185.5h1M812 186.5h2M1009 186.5h1M810 187.5h2M1010 187.5h1M808 188.5h2M1011 188.5h1M808 189.5h1M1011 189.5h1M806 190.5h2M1012 190.5h1M804 191.5h2M1013 191.5h1M803 192.5h1M1014 192.5h1M801 193.5h2M1015 193.5h1M799 194.5h2M1016 194.5h1M798 195.5h1M1017 195.5h1M796 196.5h2M1018 196.5h1M795 197.5h1M1019 197.5h1M793 198.5h2M1020 198.5h3M792 199.5h2M1023 199.5h2M790 200.5h2M1025 200.5h2M789 201.5h1M1027 201.5h2M787 202.5h2M1028 202.5h1M785 203.5h2M1029 203.5h2M783 204.5h2M1031 204.5h2M781 205.5h2M1033 205.5h2M780 206.5h1M1034 206.5h1M778 207.5h2M1035 207.5h2M776 208.5h2M1037 208.5h1M774 209.5h2M772 210.5h2M771 211.5h1M770 212.5h1M768 213.5h2M767 214.5h1M767 215.5h1M766 216.5h1M765 217.5h1M765 218.5h1M764 219.5h1M764 220.5h1M763 221.5h1M763 222.5h1M762 223.5h1M761 224.5h1M761 225.5h1M760 226.5h1M760 227.5h1M759 228.5h1M758 229.5h1M758 230.5h1M757 231.5h1M756 232.5h1M755 233.5h1M754 234.5h1M753 235.5h1M753 236.5h1M752 237.5h1M751 238.5h1M750 239.5h1M748 240.5h2M746 241.5h2M745 242.5h1M744 243.5h1M742 244.5h2M741 245.5h1M739 246.5h2M738 247.5h1M735 248.5h3M733 249.5h2M731 250.5h2M729 251.5h2M727 252.5h2M725 253.5h2M723 254.5h2M720 255.5h3M718 256.5h2M715 257.5h3M713 258.5h2M711 259.5h2M709 260.5h2M706 261.5h3M704 262.5h2M701 263.5h3M699 264.5h2M696 265.5h3M694 266.5h2M691 267.5h3M690 268.5h2M687 269.5h3M685 270.5h2M682 271.5h3M679 272.5h3M676 273.5h3M672 274.5h4M669 275.5h3M666 276.5h3M663 277.5h3M660 278.5h3M658 279.5h2M655 280.5h3M651 281.5h4M644 282.5h7M639 283.5h5M633 284.5h6M628 285.5h5M626 286.5h2M623 287.5h3M620 288.5h3M618 289.5h2M616 290.5h2M614 291.5h2M613 292.5h1M611 293.5h2M609 294.5h2M607 295.5h2M605 296.5h2M601 297.5h4M599 298.5h2M596 299.5h3M593 300.5h3M590 301.5h3M588 302.5h2M586 303.5h3M584 304.5h2M581 305.5h3M579 306.5h2M577 307.5h2M576 308.5h1M574 309.5h2M571 310.5h3M563 311.5h8M555 312.5h8M549 313.5h6M543 314.5h6M540 315.5h3M537 316.5h4M533 317.5h4M531 318.5h2M528 319.5h3M526 320.5h2M524 321.5h2M521 322.5h3M387 323.5h32M518 323.5h3M381 324.5h6M419 324.5h19M515 324.5h3M375 325.5h6M438 325.5h9M512 325.5h3M371 326.5h4M447 326.5h3M509 326.5h3M368 327.5h3M450 327.5h2M504 327.5h5M364 328.5h4M452 328.5h3M501 328.5h3M362 329.5h2M455 329.5h2M497 329.5h4M360 330.5h2M457 330.5h3M493 330.5h4M357 331.5h3M460 331.5h19M490 331.5h3M354 332.5h3M479 332.5h6M486 332.5h4M352 333.5h2M485 333.5h1M350 334.5h2M348 335.5h2M347 336.5h1M345 337.5h2M343 338.5h2M341 339.5h2M340 340.5h1M338 341.5h2M337 342.5h1M335 343.5h2M335 344.5h1M334 345.5h1M332 346.5h2M331 347.5h1M330 348.5h1M329 349.5h1M327 350.5h2M326 351.5h1M325 352.5h1M323 353.5h2M322 354.5h1M321 355.5h1M321 356.5h1M319 357.5h2M318 358.5h1M317 359.5h1M316 360.5h1M313 361.5h3M311 362.5h2M309 363.5h2M307 364.5h2M305 365.5h2M303 366.5h2M301 367.5h2M298 368.5h3M297 369.5h2M295 370.5h2M293 371.5h2M291 372.5h2M289 373.5h2M287 374.5h2M285 375.5h2M283 376.5h2M281 377.5h2M279 378.5h2M277 379.5h2M275 380.5h2M273 381.5h2M271 382.5h2M269 383.5h2M267 384.5h2M263 385.5h4M259 386.5h4M257 387.5h2M254 388.5h3M252 389.5h2M249 390.5h3M247 391.5h2M245 392.5h2M243 393.5h2M240 394.5h3M238 395.5h2M236 396.5h2M233 397.5h3M232 398.5h2M230 399.5h2M227 400.5h3M225 401.5h2M223 402.5h2M221 403.5h2M220 404.5h2M218 405.5h2M216 406.5h2M214 407.5h2M210 408.5h4M208 409.5h2M205 410.5h3M203 411.5h2M200 412.5h3M198 413.5h2M196 414.5h2M195 415.5h2M192 416.5h3M190 417.5h2M188 418.5h2M185 419.5h3M184 420.5h1M181 421.5h3M179 422.5h2M176 423.5h3M173 424.5h3M171 425.5h2M168 426.5h3M165 427.5h3M163 428.5h2M160 429.5h3M158 430.5h3M156 431.5h2M151 432.5h5M145 433.5h6M140 434.5h5M136 435.5h5M130 436.5h6M123 437.5h7M116 438.5h7M110 439.5h7M104 440.5h6M99 441.5h5M93 442.5h6M70 443.5h11M86 443.5h7M81 444.5h5"/>
<line x1="68" y1="222.5" x2="1062" y2="222.5" stroke="#f09a28" stroke-width="1" stroke-dasharray="3 3" shape-rendering="crispEdges"/>
<path d="M765.0 66.5h7M767.5 64.0v5" stroke="#fff" stroke-width="1" fill="none" shape-rendering="crispEdges"/>
<path d="M339.0 273.5h7M341.5 271.0v5" stroke="#fff" stroke-width="1" fill="none" shape-rendering="crispEdges"/>
<path d="M987.0 324.5h7M989.5 322.0v5" stroke="#fff" stroke-width="1" fill="none" shape-rendering="crispEdges"/>
<path d="M81.0 449.5h7M83.5 447.0v5" stroke="#fff" stroke-width="1" fill="none" shape-rendering="crispEdges"/>
<g shape-rendering="crispEdges">
<rect x="71" y="594" width="1" height="5" fill="#52b98b"/>
<rect x="77" y="594" width="1" height="6" fill="#52b98b"/>
<rect x="83" y="594" width="1" height="5" fill="#52b98b"/>
<rect x="89" y="594" width="1" height="4" fill="#52b98b"/>
<rect x="95" y="594" width="1" height="3" fill="#52b98b"/>
<rect x="101" y="594" width="1" height="2" fill="#52b98b"/>
<rect x="107" y="593" width="1" height="2" fill="#ec4f60"/>
<rect x="113" y="592" width="1" height="3" fill="#ec4f60"/>
<rect x="119" y="589" width="1" height="6" fill="#ec4f60"/>
<rect x="125" y="586" width="1" height="9" fill="#ec4f60"/>
<rect x="131" y="583" width="1" height="12" fill="#ec4f60"/>
<rect x="137" y="579" width="1" height="16" fill="#ec4f60"/>
<rect x="143" y="577" width="1" height="18" fill="#ec4f60"/>
<rect x="149" y="577" width="1" height="18" fill="#ec4f60"/>
<rect x="155" y="576" width="1" height="19" fill="#ec4f60"/>
<rect x="161" y="575" width="1" height="20" fill="#ec4f60"/>
<rect x="167" y="577" width="1" height="18" fill="#ec4f60"/>
<rect x="173" y="578" width="1" height="17" fill="#ec4f60"/>
<rect x="179" y="580" width="1" height="15" fill="#ec4f60"/>
<rect x="185" y="583" width="1" height="12" fill="#ec4f60"/>
<rect x="191" y="583" width="1" height="12" fill="#ec4f60"/>
<rect x="197" y="584" width="1" height="11" fill="#ec4f60"/>
<rect x="203" y="587" width="1" height="8" fill="#ec4f60"/>
<rect x="209" y="591" width="1" height="4" fill="#ec4f60"/>
<rect x="215" y="592" width="1" height="3" fill="#ec4f60"/>
<rect x="221" y="590" width="1" height="5" fill="#ec4f60"/>
<rect x="227" y="589" width="1" height="6" fill="#ec4f60"/>
<rect x="233" y="590" width="1" height="5" fill="#ec4f60"/>
<rect x="239" y="591" width="1" height="4" fill="#ec4f60"/>
<rect x="245" y="592" width="1" height="3" fill="#ec4f60"/>
<rect x="251" y="590" width="1" height="5" fill="#ec4f60"/>
<rect x="257" y="588" width="1" height="7" fill="#ec4f60"/>
<rect x="263" y="587" width="1" height="8" fill="#ec4f60"/>
<rect x="269" y="588" width="1" height="7" fill="#ec4f60"/>
<rect x="275" y="588" width="1" height="7" fill="#ec4f60"/>
<rect x="281" y="585" width="1" height="10" fill="#ec4f60"/>
<rect x="287" y="584" width="1" height="11" fill="#ec4f60"/>
<rect x="293" y="581" width="1" height="14" fill="#ec4f60"/>
<rect x="299" y="584" width="1" height="11" fill="#ec4f60"/>
<rect x="305" y="585" width="1" height="10" fill="#ec4f60"/>
<rect x="311" y="582" width="1" height="13" fill="#ec4f60"/>
<rect x="317" y="580" width="1" height="15" fill="#ec4f60"/>
<rect x="323" y="577" width="1" height="18" fill="#ec4f60"/>
<rect x="329" y="571" width="1" height="24" fill="#ec4f60"/>
<rect x="335" y="573" width="1" height="22" fill="#ec4f60"/>
<rect x="341" y="571" width="1" height="24" fill="#ec4f60"/>
<rect x="347" y="584" width="1" height="11" fill="#ec4f60"/>
<rect x="353" y="594" width="1" height="1" fill="#52b98b"/>
<rect x="359" y="594" width="1" height="8" fill="#52b98b"/>
<rect x="365" y="594" width="1" height="13" fill="#52b98b"/>
<rect x="371" y="594" width="1" height="23" fill="#52b98b"/>
<rect x="377" y="594" width="1" height="31" fill="#52b98b"/>
<rect x="383" y="594" width="1" height="36" fill="#52b98b"/>
<rect x="389" y="594" width="1" height="34" fill="#52b98b"/>
<rect x="395" y="594" width="1" height="32" fill="#52b98b"/>
<rect x="401" y="594" width="1" height="31" fill="#52b98b"/>
<rect x="407" y="594" width="1" height="32" fill="#52b98b"/>
<rect x="413" y="594" width="1" height="29" fill="#52b98b"/>
<rect x="419" y="594" width="1" height="26" fill="#52b98b"/>
<rect x="425" y="594" width="1" height="23" fill="#52b98b"/>
<rect x="431" y="594" width="1" height="14" fill="#52b98b"/>
<rect x="437" y="594" width="1" height="7" fill="#52b98b"/>
<rect x="443" y="593" width="1" height="2" fill="#ec4f60"/>
<rect x="449" y="589" width="1" height="6" fill="#ec4f60"/>
<rect x="455" y="593" width="1" height="2" fill="#ec4f60"/>
<rect x="461" y="594" width="1" height="4" fill="#52b98b"/>
<rect x="467" y="594" width="1" height="5" fill="#52b98b"/>
<rect x="473" y="594" width="1" height="6" fill="#52b98b"/>
<rect x="479" y="594" width="1" height="5" fill="#52b98b"/>
<rect x="485" y="594" width="1" height="7" fill="#52b98b"/>
<rect x="491" y="594" width="1" height="4" fill="#52b98b"/>
<rect x="497" y="594" width="1" height="2" fill="#52b98b"/>
<rect x="503" y="591" width="1" height="4" fill="#ec4f60"/>
<rect x="509" y="589" width="1" height="6" fill="#ec4f60"/>
<rect x="515" y="585" width="1" height="10" fill="#ec4f60"/>
<rect x="521" y="581" width="1" height="14" fill="#ec4f60"/>
<rect x="527" y="583" width="1" height="12" fill="#ec4f60"/>
<rect x="533" y="585" width="1" height="10" fill="#ec4f60"/>
<rect x="539" y="587" width="1" height="8" fill="#ec4f60"/>
<rect x="545" y="589" width="1" height="6" fill="#ec4f60"/>
<rect x="551" y="591" width="1" height="4" fill="#ec4f60"/>
<rect x="557" y="592" width="1" height="3" fill="#ec4f60"/>
<rect x="563" y="592" width="1" height="3" fill="#ec4f60"/>
<rect x="569" y="590" width="1" height="5" fill="#ec4f60"/>
<rect x="575" y="588" width="1" height="7" fill="#ec4f60"/>
<rect x="581" y="587" width="1" height="8" fill="#ec4f60"/>
<rect x="587" y="588" width="1" height="7" fill="#ec4f60"/>
<rect x="593" y="587" width="1" height="8" fill="#ec4f60"/>
<rect x="599" y="587" width="1" height="8" fill="#ec4f60"/>
<rect x="605" y="588" width="1" height="7" fill="#ec4f60"/>
<rect x="611" y="584" width="1" height="11" fill="#ec4f60"/>
<rect x="617" y="580" width="1" height="15" fill="#ec4f60"/>
<rect x="623" y="580" width="1" height="15" fill="#ec4f60"/>
<rect x="629" y="578" width="1" height="17" fill="#ec4f60"/>
<rect x="635" y="589" width="1" height="6" fill="#ec4f60"/>
<rect x="641" y="594" width="1" height="3" fill="#52b98b"/>
<rect x="647" y="594" width="1" height="10" fill="#52b98b"/>
<rect x="653" y="594" width="1" height="13" fill="#52b98b"/>
<rect x="659" y="594" width="1" height="9" fill="#52b98b"/>
<rect x="665" y="594" width="1" height="5" fill="#52b98b"/>
<rect x="671" y="594" width="1" height="3" fill="#52b98b"/>
<rect x="677" y="594" width="1" height="3" fill="#52b98b"/>
<rect x="683" y="594" width="1" height="1" fill="#ec4f60"/>
<rect x="689" y="589" width="1" height="6" fill="#ec4f60"/>
<rect x="695" y="587" width="1" height="8" fill="#ec4f60"/>
<rect x="701" y="585" width="1" height="10" fill="#ec4f60"/>
<rect x="707" y="585" width="1" height="10" fill="#ec4f60"/>
<rect x="713" y="587" width="1" height="8" fill="#ec4f60"/>
<rect x="719" y="586" width="1" height="9" fill="#ec4f60"/>
<rect x="725" y="588" width="1" height="7" fill="#ec4f60"/>
<rect x="731" y="580" width="1" height="15" fill="#ec4f60"/>
<rect x="737" y="571" width="1" height="24" fill="#ec4f60"/>
<rect x="743" y="565" width="1" height="30" fill="#ec4f60"/>
<rect x="749" y="563" width="1" height="32" fill="#ec4f60"/>
<rect x="755" y="555" width="1" height="40" fill="#ec4f60"/>
<rect x="761" y="541" width="1" height="54" fill="#ec4f60"/>
<rect x="767" y="536" width="1" height="59" fill="#ec4f60"/>
<rect x="773" y="563" width="1" height="32" fill="#ec4f60"/>
<rect x="779" y="594" width="1" height="1" fill="#ec4f60"/>
<rect x="785" y="594" width="1" height="7" fill="#52b98b"/>
<rect x="791" y="594" width="1" height="11" fill="#52b98b"/>
<rect x="797" y="594" width="1" height="23" fill="#52b98b"/>
<rect x="803" y="594" width="1" height="21" fill="#52b98b"/>
<rect x="809" y="594" width="1" height="16" fill="#52b98b"/>
<rect x="815" y="594" width="1" height="14" fill="#52b98b"/>
<rect x="821" y="594" width="1" height="10" fill="#52b98b"/>
<rect x="827" y="594" width="1" height="17" fill="#52b98b"/>
<rect x="833" y="594" width="1" height="14" fill="#52b98b"/>
<rect x="839" y="594" width="1" height="17" fill="#52b98b"/>
<rect x="845" y="594" width="1" height="24" fill="#52b98b"/>
<rect x="851" y="594" width="1" height="23" fill="#52b98b"/>
<rect x="857" y="594" width="1" height="21" fill="#52b98b"/>
<rect x="863" y="594" width="1" height="13" fill="#52b98b"/>
<rect x="869" y="594" width="1" height="3" fill="#52b98b"/>
<rect x="875" y="594" width="1" height="1" fill="#52b98b"/>
<rect x="881" y="593" width="1" height="2" fill="#ec4f60"/>
<rect x="887" y="592" width="1" height="3" fill="#ec4f60"/>
<rect x="893" y="587" width="1" height="8" fill="#ec4f60"/>
<rect x="899" y="584" width="1" height="11" fill="#ec4f60"/>
<rect x="905" y="594" width="1" height="1" fill="#52b98b"/>
<rect x="911" y="594" width="1" height="6" fill="#52b98b"/>
<rect x="917" y="594" width="1" height="13" fill="#52b98b"/>
<rect x="923" y="594" width="1" height="13" fill="#52b98b"/>
<rect x="929" y="594" width="1" height="14" fill="#52b98b"/>
<rect x="935" y="594" width="1" height="13" fill="#52b98b"/>
<rect x="941" y="594" width="1" height="12" fill="#52b98b"/>
<rect x="947" y="594" width="1" height="17" fill="#52b98b"/>
<rect x="953" y="594" width="1" height="22" fill="#52b98b"/>
<rect x="959" y="594" width="1" height="27" fill="#52b98b"/>
<rect x="965" y="594" width="1" height="28" fill="#52b98b"/>
<rect x="971" y="594" width="1" height="36" fill="#52b98b"/>
<rect x="977" y="594" width="1" height="50" fill="#52b98b"/>
<rect x="983" y="594" width="1" height="64" fill="#52b98b"/>
<rect x="989" y="594" width="1" height="71" fill="#52b98b"/>
<rect x="995" y="594" width="1" height="71" fill="#52b98b"/>
<rect x="1001" y="594" width="1" height="66" fill="#52b98b"/>
<rect x="1007" y="594" width="1" height="58" fill="#52b98b"/>
<rect x="1013" y="594" width="1" height="50" fill="#52b98b"/>
<rect x="1019" y="594" width="1" height="42" fill="#52b98b"/>
<rect x="1025" y="594" width="1" height="23" fill="#52b98b"/>
<rect x="1031" y="594" width="1" height="5" fill="#52b98b"/>
<rect x="1037" y="590" width="1" height="5" fill="#ec4f60"/>
</g>
<path fill="none" stroke="#e0e020" stroke-width="1" shape-rendering="crispEdges" d="M773 526.5h9M771 527.5h2M782 527.5h4M769 528.5h2M786 528.5h5M767 529.5h2M791 529.5h2M766 530.5h1M793 530.5h2M766 531.5h1M795 531.5h3M765 532.5h1M798 532.5h1M764 533.5h1M799 533.5h2M763 534.5h1M801 534.5h2M763 535.5h1M803 535.5h4M762 536.5h1M807 536.5h3M761 537.5h1M810 537.5h8M760 538.5h1M818 538.5h5M343 539.5h15M759 539.5h1M823 539.5h3M339 540.5h4M358 540.5h5M758 540.5h1M826 540.5h3M336 541.5h3M363 541.5h4M757 541.5h1M829 541.5h3M333 542.5h3M367 542.5h1M756 542.5h1M832 542.5h3M331 543.5h2M368 543.5h2M755 543.5h1M835 543.5h3M329 544.5h2M370 544.5h2M754 544.5h1M838 544.5h3M326 545.5h3M372 545.5h1M753 545.5h1M841 545.5h2M323 546.5h3M373 546.5h2M752 546.5h1M842 546.5h2M320 547.5h3M375 547.5h1M751 547.5h1M844 547.5h3M317 548.5h3M376 548.5h2M750 548.5h1M847 548.5h2M314 549.5h3M378 549.5h1M749 549.5h1M849 549.5h3M311 550.5h3M379 550.5h2M747 550.5h2M852 550.5h2M308 551.5h3M381 551.5h1M744 551.5h3M854 551.5h3M304 552.5h4M382 552.5h2M743 552.5h1M857 552.5h3M895 552.5h15M301 553.5h3M384 553.5h2M741 553.5h2M860 553.5h3M888 553.5h7M910 553.5h5M295 554.5h6M386 554.5h1M739 554.5h2M863 554.5h25M915 554.5h4M289 555.5h6M387 555.5h2M737 555.5h2M919 555.5h4M285 556.5h4M389 556.5h1M735 556.5h2M923 556.5h4M281 557.5h4M390 557.5h2M732 557.5h3M927 557.5h4M277 558.5h4M392 558.5h1M730 558.5h2M931 558.5h5M271 559.5h6M393 559.5h2M728 559.5h2M936 559.5h4M264 560.5h7M395 560.5h2M726 560.5h2M940 560.5h3M256 561.5h8M397 561.5h2M719 561.5h7M943 561.5h4M249 562.5h7M399 562.5h2M629 562.5h13M712 562.5h7M947 562.5h2M236 563.5h13M401 563.5h1M625 563.5h4M642 563.5h5M704 563.5h8M949 563.5h3M219 564.5h17M402 564.5h2M621 564.5h4M647 564.5h4M697 564.5h7M952 564.5h2M207 565.5h13M404 565.5h2M617 565.5h4M651 565.5h5M691 565.5h6M954 565.5h2M197 566.5h10M406 566.5h2M612 566.5h5M656 566.5h6M686 566.5h5M956 566.5h2M192 567.5h5M408 567.5h1M609 567.5h3M662 567.5h24M958 567.5h2M188 568.5h4M409 568.5h2M604 568.5h5M960 568.5h2M183 569.5h5M411 569.5h1M598 569.5h6M962 569.5h2M179 570.5h4M412 570.5h2M592 570.5h6M964 570.5h2M174 571.5h5M414 571.5h1M584 571.5h8M966 571.5h1M172 572.5h2M415 572.5h2M576 572.5h8M967 572.5h1M168 573.5h4M417 573.5h1M570 573.5h6M967 573.5h2M165 574.5h3M418 574.5h2M544 574.5h26M969 574.5h1M162 575.5h3M420 575.5h3M539 575.5h5M970 575.5h1M159 576.5h3M423 576.5h3M533 576.5h6M971 576.5h1M156 577.5h3M426 577.5h3M527 577.5h6M972 577.5h1M153 578.5h3M428 578.5h4M449 578.5h3M521 578.5h6M973 578.5h2M151 579.5h2M432 579.5h6M445 579.5h4M452 579.5h11M516 579.5h5M974 579.5h1M147 580.5h4M438 580.5h8M463 580.5h7M511 580.5h5M975 580.5h1M144 581.5h3M470 581.5h12M504 581.5h7M976 581.5h1M141 582.5h3M482 582.5h22M977 582.5h1M137 583.5h4M978 583.5h1M134 584.5h3M978 584.5h1M131 585.5h3M979 585.5h1M128 586.5h3M979 586.5h1M124 587.5h4M980 587.5h1M71 588.5h4M118 588.5h6M981 588.5h1M75 589.5h7M112 589.5h6M981 589.5h1M82 590.5h30M982 590.5h1M982 591.5h1M983 592.5h1M984 593.5h1M985 594.5h1M985 595.5h1M986 596.5h1M986 597.5h1M987 598.5h1M988 599.5h1M988 600.5h1M989 601.5h1M990 602.5h1M990 603.5h1M991 604.5h1M991 605.5h2M993 606.5h1M993 607.5h1M994 608.5h1M994 609.5h1M995 610.5h1M996 611.5h1M996 612.5h1M997 613.5h1M998 614.5h1M998 615.5h1M999 616.5h1M1000 617.5h1M1000 618.5h1M1001 619.5h1M1002 620.5h1M1003 621.5h1M1003 622.5h2M1005 623.5h1M1005 624.5h1M1006 625.5h1M1007 626.5h1M1008 627.5h1M1009 628.5h2M1010 629.5h1M1011 630.5h1M1012 631.5h1M1013 632.5h2M1015 633.5h1M1016 634.5h2M1018 635.5h1M1019 636.5h2M1021 637.5h2M1023 638.5h3M1026 639.5h12"/>
<path fill="none" stroke="#f4f4f4" stroke-width="1" shape-rendering="crispEdges" d="M767 501.5h1M766 502.5h1M768 502.5h1M766 503.5h1M768 503.5h1M765 504.5h1M769 504.5h1M764 505.5h1M769 505.5h1M763 506.5h1M770 506.5h1M763 507.5h1M771 507.5h1M762 508.5h1M771 508.5h1M761 509.5h1M772 509.5h1M761 510.5h1M772 510.5h1M760 511.5h1M773 511.5h1M760 512.5h1M773 512.5h1M759 513.5h1M774 513.5h1M759 514.5h1M774 514.5h1M758 515.5h1M775 515.5h1M758 516.5h1M775 516.5h1M757 517.5h1M775 517.5h1M757 518.5h1M776 518.5h1M757 519.5h1M777 519.5h1M756 520.5h1M777 520.5h1M756 521.5h1M777 521.5h1M755 522.5h1M778 522.5h1M755 523.5h1M778 523.5h1M754 524.5h1M779 524.5h1M754 525.5h1M779 525.5h1M753 526.5h1M780 526.5h2M753 527.5h1M782 527.5h2M752 528.5h1M784 528.5h2M340 529.5h3M752 529.5h1M785 529.5h2M339 530.5h1M343 530.5h1M751 530.5h1M787 530.5h2M337 531.5h2M344 531.5h1M750 531.5h1M789 531.5h1M335 532.5h2M345 532.5h2M749 532.5h1M790 532.5h1M332 533.5h3M346 533.5h1M748 533.5h1M791 533.5h1M329 534.5h3M347 534.5h2M747 534.5h1M792 534.5h1M328 535.5h1M349 535.5h1M746 535.5h1M793 535.5h1M327 536.5h1M350 536.5h1M745 536.5h1M793 536.5h1M326 537.5h1M351 537.5h1M744 537.5h1M794 537.5h1M325 538.5h1M352 538.5h2M744 538.5h1M795 538.5h1M324 539.5h1M354 539.5h1M743 539.5h1M796 539.5h1M323 540.5h1M355 540.5h1M742 540.5h1M796 540.5h1M321 541.5h2M356 541.5h1M741 541.5h1M797 541.5h1M320 542.5h1M357 542.5h1M740 542.5h1M798 542.5h3M318 543.5h2M358 543.5h2M739 543.5h1M801 543.5h2M806 543.5h7M817 543.5h6M315 544.5h3M360 544.5h1M738 544.5h1M803 544.5h3M813 544.5h4M823 544.5h1M312 545.5h4M361 545.5h1M737 545.5h1M824 545.5h1M309 546.5h3M362 546.5h1M736 546.5h1M825 546.5h1M899 546.5h1M308 547.5h1M363 547.5h2M735 547.5h1M826 547.5h3M897 547.5h2M900 547.5h1M305 548.5h3M365 548.5h1M734 548.5h1M829 548.5h5M895 548.5h2M901 548.5h1M292 549.5h5M301 549.5h4M366 549.5h1M734 549.5h1M834 549.5h2M893 549.5h2M901 549.5h1M290 550.5h2M297 550.5h4M367 550.5h1M733 550.5h1M836 550.5h1M891 550.5h2M902 550.5h2M288 551.5h2M368 551.5h1M732 551.5h1M837 551.5h2M889 551.5h2M904 551.5h1M286 552.5h2M368 552.5h1M731 552.5h1M839 552.5h1M887 552.5h2M905 552.5h2M284 553.5h2M369 553.5h1M730 553.5h1M839 553.5h1M885 553.5h2M907 553.5h2M282 554.5h2M370 554.5h1M628 554.5h1M729 554.5h1M839 554.5h1M872 554.5h14M908 554.5h1M280 555.5h2M371 555.5h1M627 555.5h3M728 555.5h1M840 555.5h2M869 555.5h3M909 555.5h2M277 556.5h3M372 556.5h1M625 556.5h2M630 556.5h1M728 556.5h1M842 556.5h1M868 556.5h1M911 556.5h2M269 557.5h8M372 557.5h1M623 557.5h2M631 557.5h2M718 557.5h4M726 557.5h2M843 557.5h1M866 557.5h2M913 557.5h1M261 558.5h8M373 558.5h1M620 558.5h3M633 558.5h1M715 558.5h3M722 558.5h4M844 558.5h2M865 558.5h1M914 558.5h2M256 559.5h5M374 559.5h1M618 559.5h2M634 559.5h1M700 559.5h15M846 559.5h2M864 559.5h1M916 559.5h1M252 560.5h4M375 560.5h1M616 560.5h2M635 560.5h2M697 560.5h3M848 560.5h2M861 560.5h3M917 560.5h4M196 561.5h3M243 561.5h9M376 561.5h1M614 561.5h2M637 561.5h1M693 561.5h4M850 561.5h4M859 561.5h2M921 561.5h4M189 562.5h7M199 562.5h6M222 562.5h21M376 562.5h1M612 562.5h2M637 562.5h2M689 562.5h4M854 562.5h5M925 562.5h2M182 563.5h7M205 563.5h17M377 563.5h1M611 563.5h1M639 563.5h1M687 563.5h2M926 563.5h3M177 564.5h5M378 564.5h1M610 564.5h1M640 564.5h1M684 564.5h3M929 564.5h7M171 565.5h6M379 565.5h1M608 565.5h2M641 565.5h2M682 565.5h2M936 565.5h3M164 566.5h7M380 566.5h1M606 566.5h2M643 566.5h2M679 566.5h3M939 566.5h3M160 567.5h4M380 567.5h1M591 567.5h15M645 567.5h2M670 567.5h9M942 567.5h3M158 568.5h2M381 568.5h2M584 568.5h7M647 568.5h2M662 568.5h8M944 568.5h2M156 569.5h2M383 569.5h1M577 569.5h7M649 569.5h2M659 569.5h3M946 569.5h2M153 570.5h3M384 570.5h2M574 570.5h3M651 570.5h2M655 570.5h4M948 570.5h1M152 571.5h1M386 571.5h2M570 571.5h4M653 571.5h2M949 571.5h1M150 572.5h2M388 572.5h2M529 572.5h17M566 572.5h4M950 572.5h1M147 573.5h3M389 573.5h2M525 573.5h5M546 573.5h6M561 573.5h5M951 573.5h2M144 574.5h3M391 574.5h2M521 574.5h4M552 574.5h9M953 574.5h1M141 575.5h3M393 575.5h2M518 575.5h3M954 575.5h1M139 576.5h2M395 576.5h2M449 576.5h1M515 576.5h3M955 576.5h1M137 577.5h2M397 577.5h2M447 577.5h2M450 577.5h7M512 577.5h3M956 577.5h1M135 578.5h2M399 578.5h1M445 578.5h2M457 578.5h2M509 578.5h3M956 578.5h1M133 579.5h2M400 579.5h2M443 579.5h2M459 579.5h1M507 579.5h2M957 579.5h1M131 580.5h2M402 580.5h2M441 580.5h2M460 580.5h4M504 580.5h3M958 580.5h1M130 581.5h1M404 581.5h1M439 581.5h2M464 581.5h5M502 581.5h2M959 581.5h1M129 582.5h1M405 582.5h2M437 582.5h2M469 582.5h6M500 582.5h2M960 582.5h2M127 583.5h2M407 583.5h2M435 583.5h2M475 583.5h5M498 583.5h2M962 583.5h1M124 584.5h3M409 584.5h3M432 584.5h3M480 584.5h18M963 584.5h2M121 585.5h3M412 585.5h2M430 585.5h2M965 585.5h1M117 586.5h4M414 586.5h2M428 586.5h2M966 586.5h1M114 587.5h3M416 587.5h5M426 587.5h2M967 587.5h1M112 588.5h2M421 588.5h5M967 588.5h1M107 589.5h5M968 589.5h1M71 590.5h5M102 590.5h5M969 590.5h1M76 591.5h6M90 591.5h12M970 591.5h1M82 592.5h8M971 592.5h1M971 593.5h1M972 594.5h1M972 595.5h1M973 596.5h1M973 597.5h1M974 598.5h1M975 599.5h1M975 600.5h1M976 601.5h1M976 602.5h1M977 603.5h1M977 604.5h1M978 605.5h1M978 606.5h1M978 607.5h1M979 608.5h1M979 609.5h1M980 610.5h1M980 611.5h1M980 612.5h1M981 613.5h1M981 614.5h1M981 615.5h1M982 616.5h1M982 617.5h1M982 618.5h1M983 619.5h1M983 620.5h1M984 621.5h1M984 622.5h1M984 623.5h1M985 624.5h1M985 625.5h1M986 626.5h1M986 627.5h1M986 628.5h1M987 629.5h1M987 630.5h1M987 631.5h1M988 632.5h1M988 633.5h1M989 634.5h1M989 635.5h1M990 636.5h1M990 637.5h1M991 638.5h1M991 639.5h1M992 640.5h1M993 641.5h1M1031 641.5h1M993 642.5h1M1030 642.5h1M994 643.5h1M1029 643.5h1M994 644.5h1M1028 644.5h1M995 645.5h2M1028 645.5h1M997 646.5h1M1027 646.5h1M998 647.5h1M1027 647.5h1M999 648.5h1M1026 648.5h1M1000 649.5h1M1026 649.5h1M1001 650.5h1M1025 650.5h1M1002 651.5h1M1024 651.5h1M1003 652.5h1M1023 652.5h1M1004 653.5h2M1022 653.5h1M1006 654.5h1M1021 654.5h1M1007 655.5h1M1021 655.5h1M1008 656.5h3M1019 656.5h2M1010 657.5h3M1015 657.5h4M1013 658.5h2"/>
<rect x="1063.5" y="222.5" width="67" height="17" fill="#000" stroke="#f09a28" stroke-width="1"/>
<rect x="1123" y="214" width="8" height="8" fill="#000"/>
<rect x="1064" y="282" width="68" height="15" fill="#000"/>
<path d="M1123 218.2 l4 -4.2 l4 4.2 z M1123 222.5 l4 -4.2 l4 4.2 z" fill="#f09a28"/>
<rect x="403" y="667" width="109" height="16" fill="#000"/>
<rect x="1000.5" y="0.5" width="13" height="13" fill="#0a0a0a" stroke="#8c8c8c" stroke-width="1"/>
<rect x="1016.5" y="0.5" width="13" height="13" fill="#0a0a0a" stroke="#8c8c8c" stroke-width="1"/>
<rect x="1032.5" y="0.5" width="13" height="13" fill="#0a0a0a" stroke="#8c8c8c" stroke-width="1"/>
<rect x="1048.5" y="0.5" width="13" height="13" fill="#0a0a0a" stroke="#8c8c8c" stroke-width="1"/>
<g shape-rendering="crispEdges">
<rect x="1006" y="6" width="2" height="2" fill="#a8a8a8"/>
<rect x="1002" y="6" width="3" height="2" fill="#a8a8a8"/>
<rect x="1009" y="6" width="3" height="2" fill="#a8a8a8"/>
<rect x="1006" y="2" width="2" height="3" fill="#a8a8a8"/>
<rect x="1006" y="9" width="2" height="3" fill="#a8a8a8"/>
<rect x="1003" y="6" width="1" height="2" fill="#707070"/>
<rect x="1010" y="6" width="1" height="2" fill="#707070"/>
<rect x="1006" y="3" width="2" height="1" fill="#707070"/>
<rect x="1006" y="10" width="2" height="1" fill="#707070"/>
</g>
<path d="M1019.5 3v8.5M1018 10.5h9" stroke="#b8b8b8" stroke-width="1" fill="none"/><path d="M1018 4.5l1.5 -2.5l1.5 2.5zM1025.5 9l2.5 1.5l-2.5 1.5z" fill="#b8b8b8"/><path d="M1022.5 3.5v5.5" stroke="#b8b8b8" stroke-width="1"/><path d="M1026.5 3.5v5.5l-3-2.75z" fill="#b8b8b8"/>
<path d="M1035.5 3v8.5M1034 10.5h9" stroke="#b8b8b8" stroke-width="1" fill="none"/><path d="M1034 4.5l1.5 -2.5l1.5 2.5zM1041.5 9l2.5 1.5l-2.5 1.5z" fill="#b8b8b8"/><path d="M1038 3.2v6l5-3z" fill="#b8b8b8"/>
<rect x="1050.5" y="2.5" width="3" height="9" fill="none" stroke="#b8b8b8" stroke-width="1"/><path d="M1052 6.5h5" stroke="#b8b8b8" stroke-width="1"/><path d="M1056 4v5l3.5-2.5z" fill="#b8b8b8"/>
<g transform="translate(5.8,486.6)"><g stroke="#f00" stroke-width="1"><line x1="4.60" y1="0.00" x2="6.60" y2="0.00"/><line x1="3.25" y1="3.25" x2="4.67" y2="4.67"/><line x1="0.00" y1="4.60" x2="0.00" y2="6.60"/><line x1="-3.25" y1="3.25" x2="-4.67" y2="4.67"/><line x1="-4.60" y1="0.00" x2="-6.60" y2="0.00"/><line x1="-3.25" y1="-3.25" x2="-4.67" y2="-4.67"/><line x1="-0.00" y1="-4.60" x2="-0.00" y2="-6.60"/><line x1="3.25" y1="-3.25" x2="4.67" y2="-4.67"/></g><circle r="3.2" fill="#fff"/><circle r="1.7" fill="#f00"/></g>
<circle cx="194.5" cy="10.5" r="4" fill="none" stroke="#f0701a" stroke-width="1"/><path d="M190.5 10.5h8M194.5 6.5v8" stroke="#f0701a" stroke-width="1"/>
<rect x="206.5" y="0.5" width="12" height="12" fill="#fff" stroke="#2a4fc8" stroke-width="1"/><polyline points="208,9 211,5 213,8 217,3" fill="none" stroke="#e02020" stroke-width="1.2"/><polyline points="208,11 211,8 214,10 217,7" fill="none" stroke="#2040d0" stroke-width="1.2"/>
</svg>
<div class="t r ax" style="right:1067.75px;top:13px;">5899.6</div>
<div class="t ax" style="left:1066px;top:13px;">5899.6</div>
<div class="t r ax" style="right:1067.75px;top:70px;">5559.1</div>
<div class="t ax" style="left:1066px;top:70px;">5559.1</div>
<div class="t r ax" style="right:1067.75px;top:127px;">5218.5</div>
<div class="t ax" style="left:1066px;top:127px;">5218.5</div>
<div class="t r ax" style="right:1067.75px;top:185px;">4877.9</div>
<div class="t ax" style="left:1066px;top:185px;">4877.9</div>
<div class="t r ax" style="right:1067.75px;top:242px;">4537.4</div>
<div class="t ax" style="left:1066px;top:242px;">4537.4</div>
<div class="t r ax" style="right:1067.75px;top:299px;">4196.8</div>
<div class="t ax" style="left:1066px;top:299px;">4196.8</div>
<div class="t r ax" style="right:1067.75px;top:357px;">3856.3</div>
<div class="t ax" style="left:1066px;top:357px;">3856.3</div>
<div class="t r ax" style="right:1067.75px;top:414px;">3515.7</div>
<div class="t ax" style="left:1066px;top:414px;">3515.7</div>
<div class="t r ax" style="right:1067.75px;top:494px;">234.0</div>
<div class="t ax" style="left:1066px;top:494px;">234.0</div>
<div class="t r ax" style="right:1067.75px;top:517px;">174.2</div>
<div class="t ax" style="left:1066px;top:517px;">174.2</div>
<div class="t r ax" style="right:1067.75px;top:541px;">114.5</div>
<div class="t ax" style="left:1066px;top:541px;">114.5</div>
<div class="t r ax" style="right:1067.75px;top:564px;">54.7</div>
<div class="t ax" style="left:1066px;top:564px;">54.7</div>
<div class="t r ax" style="right:1067.75px;top:588px;">-5.0</div>
<div class="t ax" style="left:1066px;top:588px;">-5.0</div>
<div class="t r ax" style="right:1067.75px;top:611px;">-64.8</div>
<div class="t ax" style="left:1066px;top:611px;">-64.8</div>
<div class="t r ax" style="right:1067.75px;top:635px;">-124.5</div>
<div class="t ax" style="left:1066px;top:635px;">-124.5</div>
<div class="t " style="left:69px;top:1px;"><span class="cjk">纽约黄金连续</span><span class="cjk" style="color:#f0701a;letter-spacing:0.5px">【日线】</span></div>
<div class="t " style="left:221.5px;top:1px;">BOLL(20,2)</div>
<div class="t " style="left:287.5px;top:1px;letter-spacing:0.45px">MID:4789.6</div>
<div class="t " style="left:361.5px;top:1px;letter-spacing:-0.25px;color:#c8c828">UPPER:5373.0</div>
<div class="t " style="left:448px;top:1px;color:#d020d0">LOWER:4206.3</div>
<div class="t " style="left:69.5px;top:483px;letter-spacing:0.3px">MACD(26,12,9)</div>
<div class="t " style="left:160.5px;top:483px;">DIFF:-108.8</div>
<div class="t " style="left:231px;top:483px;letter-spacing:0.2px;color:#c8c828">DEA:-114.1</div>
<div class="t " style="left:302px;top:483px;letter-spacing:0.3px;color:#d020d0">MACD:10.6</div>
<div class="t b" style="left:772px;top:52px;color:#f0465a">5626.8</div>
<div class="t b" style="left:346px;top:259px;color:#f0465a">4398.0</div>
<div class="t b" style="left:994px;top:324.5px;color:#4cae84">4100.0</div>
<div class="t b" style="left:88px;top:450px;color:#4cae84">3353.4</div>
<div class="t ax" style="left:1066px;top:224px;color:#f09a28">4702.7</div>
<div class="t ax" style="left:1066px;top:283px;color:#f09a28">4350.4</div>
<div class="t b" style="left:10.5px;top:671px;color:#ff6a00;font-size:12px;-webkit-text-stroke:0.5px #ff6a00;letter-spacing:1.5px"><span class="cjk">日线</span></div>
<div class="t b" style="left:41px;top:668px;color:#ff6a00;font-size:14px;letter-spacing:0;font-family:DejaVu Sans,sans-serif">▲</div>
<div class="t b" style="left:133.5px;top:668px;">2025/09</div>
<div class="t b" style="left:265.5px;top:668px;">2025/10</div>
<div class="t b" style="left:523.5px;top:668px;">2025/12</div>
<div class="t b" style="left:655.5px;top:668px;">2026/01</div>
<div class="t b" style="left:781.5px;top:668px;">2026/02</div>
<div class="t b" style="left:901.5px;top:668px;">2026/03</div>
<div class="t " style="left:405px;top:668px;font-size:13px;-webkit-text-stroke:0.1px;color:#f09a28">2025/11/03 <span class="cjk" style="font-size:12px">星期一</span></div>
<div class="t" style="left:1002.5px;top:632.5px;height:36px;line-height:36px;font-size:30px;letter-spacing:2.6px;color:#e4ecfa;-webkit-text-stroke:0;text-shadow:0 0 2px #000,0 0 1px #321;">FX678</div>
</body></html>
